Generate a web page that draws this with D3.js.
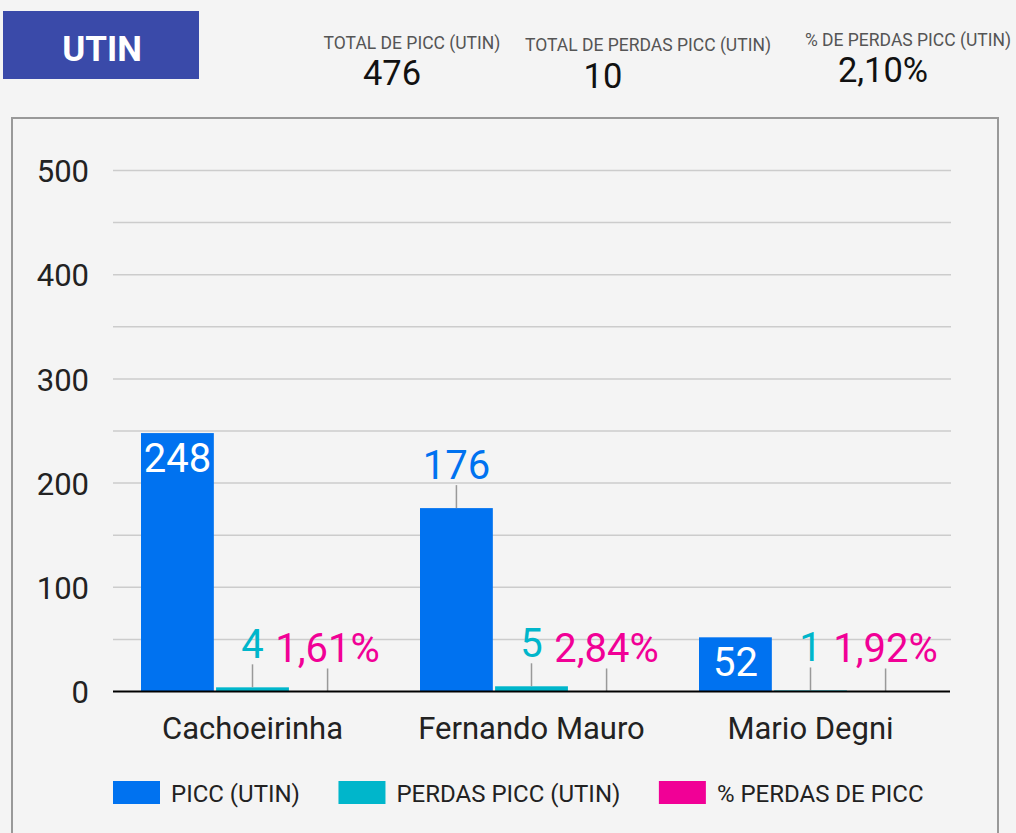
<!DOCTYPE html>
<html>
<head>
<meta charset="utf-8">
<script src="https://cdn.jsdelivr.net/npm/d3@7"></script>
<style>
  html, body { margin: 0; padding: 0; background: #f4f4f4; }
  svg { display: block; font-family: Roboto, "Noto Sans", sans-serif; }
</style>
</head>
<body>
<svg id="chart" width="1016" height="833"></svg>
<script>
// ---- data ----
const categories = ["Cachoeirinha", "Fernando Mauro", "Mario Degni"];
const piccValues = [248, 176, 52];
const perdasValues = [4, 5, 1];
const pctPerdasValues = [0.0161, 0.0284, 0.0192];
const seriesNames = ["PICC (UTIN)", "PERDAS PICC (UTIN)", "% PERDAS DE PICC"];
const seriesColors = ["#0072f0", "#00b6cb", "#f10096"];
const piccLabelInside = [true, false, true];
const yTicks = [0, 100, 200, 300, 400, 500];
const yGridTicks = [0, 50, 100, 150, 200, 250, 300, 350, 400, 450, 500];
const kpiLabels = ["TOTAL DE PICC (UTIN)", "TOTAL DE PERDAS PICC (UTIN)", "% DE PERDAS PICC (UTIN)"];
const kpiValues = ["476", "10", "2,10%"];
const pageTitle = "UTIN";

// ---- setup ----
const svg = d3.select("#chart");
const ptBR = d3.formatLocale({decimal: ",", thousands: ".", grouping: [3], currency: ["R$", ""]});
const fmtPct = ptBR.format(".2%");
const fmtInt = ptBR.format("d");

svg.append("rect").attr("width", 1016).attr("height", 833).attr("fill", "#f4f4f4");

// title box
svg.append("rect").attr("x", 3).attr("y", 11).attr("width", 196).attr("height", 68).attr("fill", "#3a4aa9");
svg.append("text").attr("x", 102).attr("y", 61).attr("text-anchor", "middle")
  .attr("font-size", 35).attr("font-weight", "bold").attr("fill", "#fff").text(pageTitle);

// KPIs
const kpiPos = [
  {lx: 412, ly: 49, vx: 392, vy: 85},
  {lx: 648, ly: 51, vx: 603, vy: 88},
  {lx: 908, ly: 46, vx: 883, vy: 82}
];
kpiLabels.forEach((l, i) => {
  svg.append("text").attr("x", kpiPos[i].lx).attr("y", kpiPos[i].ly).attr("text-anchor", "middle")
    .attr("font-size", 17.5).attr("fill", "#555").text(l);
  svg.append("text").attr("x", kpiPos[i].vx).attr("y", kpiPos[i].vy).attr("text-anchor", "middle")
    .attr("font-size", 34.5).attr("fill", "#111").text(kpiValues[i]);
});

// frame
svg.append("rect").attr("x", 12).attr("y", 118).attr("width", 986).attr("height", 730)
  .attr("fill", "#f4f4f4").attr("stroke", "#999").attr("stroke-width", 2);

// scales
const plotL = 113, plotR = 950, plotT = 170.5, plotB = 691.5;
const y = d3.scaleLinear().domain([0, 500]).range([plotB, plotT]);
const x0 = d3.scaleBand().domain(categories).range([plotL, plotR]).paddingInner(0).paddingOuter(0);
const x1 = d3.scaleBand().domain(seriesNames).range([28, x0.bandwidth() - 28]).paddingInner(0.03);

// gridlines
svg.append("g").selectAll("line").data(yGridTicks.filter(d => d > 0)).join("line")
  .attr("x1", plotL).attr("x2", plotR + 1)
  .attr("y1", d => y(d)).attr("y2", d => y(d))
  .attr("stroke", "#cccccc").attr("stroke-width", 1.5);

// y axis labels
const yAxis = d3.axisLeft(y).tickValues(yTicks).tickSize(0).tickPadding(0).tickFormat(fmtInt);
const yg = svg.append("g").attr("transform", `translate(89,0)`).call(yAxis);
yg.select(".domain").remove();
yg.selectAll("text").attr("font-size", 31).attr("fill", "#222").attr("font-family", "Roboto").attr("dy", "0.36em");

// bars
const rows = categories.map((c, i) => ({
  cat: c,
  vals: [
    {s: seriesNames[0], v: piccValues[i], label: fmtInt(piccValues[i]), inside: piccLabelInside[i], color: seriesColors[0]},
    {s: seriesNames[1], v: perdasValues[i], label: fmtInt(perdasValues[i]), inside: false, color: seriesColors[1]},
    {s: seriesNames[2], v: pctPerdasValues[i], label: fmtPct(pctPerdasValues[i]), inside: false, color: seriesColors[2]}
  ]
}));

const groups = svg.append("g").selectAll("g").data(rows).join("g")
  .attr("transform", d => `translate(${x0(d.cat)},0)`);

groups.selectAll("rect").data(d => d.vals).join("rect")
  .attr("x", d => x1(d.s)).attr("width", x1.bandwidth())
  .attr("y", d => y(d.v)).attr("height", d => plotB - y(d.v))
  .attr("fill", d => d.color);

// leader lines for outside labels
groups.selectAll("line.leader").data(d => d.vals.filter(v => !v.inside)).join("line")
  .attr("class", "leader")
  .attr("x1", d => x1(d.s) + x1.bandwidth() / 2).attr("x2", d => x1(d.s) + x1.bandwidth() / 2)
  .attr("y1", d => y(d.v)).attr("y2", d => y(d.v) - 23)
  .attr("stroke", "#999").attr("stroke-width", 1.5);

groups.selectAll("text.lbl").data(d => d.vals).join("text")
  .attr("class", "lbl")
  .attr("x", d => x1(d.s) + x1.bandwidth() / 2)
  .attr("y", d => d.inside ? y(d.v) + 39 : y(d.v) - 29)
  .attr("text-anchor", "middle")
  .attr("font-size", 40)
  .attr("fill", d => d.inside ? "#fff" : d.color)
  .text(d => d.label);

// baseline
svg.append("line").attr("x1", plotL).attr("x2", plotR).attr("y1", plotB).attr("y2", plotB)
  .attr("stroke", "#000").attr("stroke-width", 2);

// x axis labels
const xAxis = d3.axisBottom(x0).tickSize(0).tickPadding(0);
const xg = svg.append("g").attr("transform", `translate(0,${plotB})`).call(xAxis);
xg.select(".domain").remove();
xg.selectAll("text").attr("font-size", 31).attr("fill", "#222").attr("font-family", "Roboto")
  .attr("dy", null).attr("y", 47.5);

// legend
const legend = svg.append("g");
let lx = 113;
seriesNames.forEach((n, i) => {
  legend.append("rect").attr("x", lx).attr("y", 781).attr("width", 47).attr("height", 23).attr("fill", seriesColors[i]);
  const t = legend.append("text").attr("x", lx + 58).attr("y", 801.5).attr("font-size", 24).attr("fill", "#222").text(n);
  lx = lx + 58 + t.node().getComputedTextLength() + 38.5;
});
</script>
</body>
</html>
